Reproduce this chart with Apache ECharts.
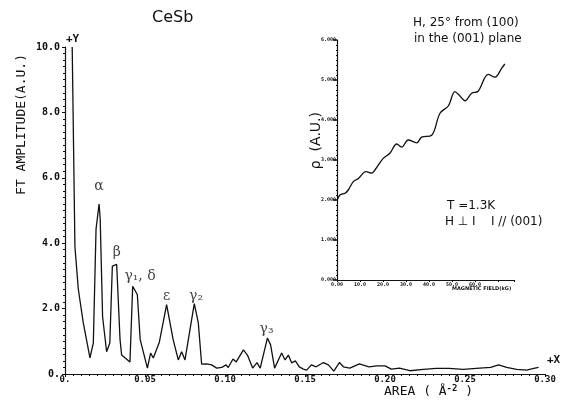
<!DOCTYPE html>
<html><head><meta charset="utf-8">
<script src="https://cdn.jsdelivr.net/npm/echarts@6/dist/echarts.min.js"></script>
<style>html,body{margin:0;padding:0;background:#fff}#c{width:577px;height:402px}</style>
</head><body><div id="c"></div>
<script>
// Main FT spectrum
const areaValues = [0.0045,0.0062,0.0083,0.0114,0.0156,0.0177,0.0194,0.0213,0.022,0.0235,0.026,0.028,0.0296,0.0323,0.0344,0.0354,0.0406,0.0423,0.0452,0.047,0.0515,0.0535,0.0552,0.059,0.0635,0.0676,0.0708,0.0729,0.075,0.0808,0.0833,0.0854,0.0885,0.0917,0.0948,0.098,0.1006,0.102,0.105,0.107,0.1115,0.114,0.1173,0.12,0.122,0.1265,0.1285,0.131,0.1354,0.1375,0.1396,0.1417,0.144,0.1464,0.149,0.151,0.154,0.157,0.1615,0.1646,0.168,0.1715,0.174,0.178,0.184,0.19,0.195,0.2,0.204,0.209,0.2156,0.224,0.232,0.24,0.249,0.257,0.266,0.271,0.276,0.2823,0.2885,0.293,0.296];
const ftAmplitude = [10.0,3.9,2.6,1.57,0.49,0.95,4.43,5.2,4.74,1.75,0.68,0.95,3.3,3.35,1.05,0.58,0.37,2.68,2.43,1.05,0.18,0.64,0.49,0.98,2.12,1.05,0.43,0.68,0.43,2.15,1.57,0.3,0.31,0.28,0.18,0.2,0.28,0.2,0.46,0.37,0.74,0.58,0.18,0.35,0.18,1.1,0.89,0.18,0.64,0.43,0.58,0.34,0.4,0.22,0.15,0.12,0.28,0.22,0.35,0.28,0.09,0.35,0.22,0.18,0.31,0.22,0.25,0.25,0.15,0.18,0.1,0.14,0.17,0.17,0.14,0.17,0.2,0.28,0.2,0.14,0.12,0.17,0.2];
const xTickLabels = ['0.','0.05','0.10','0.15','0.20','0.25','0.30'];
const yTickLabels = ['0.','2.0','4.0','6.0','8.0','10.0'];
// Peak annotations
const peakNames = ['α','β','γ₁, δ','ε','γ₂','γ₃'];
const peakX = [0.0213,0.0323,0.0469,0.0635,0.0819,0.126];
const peakY = [5.73,3.72,2.98,2.37,2.37,1.38];
// Inset: resistivity vs field
const insetField = [0.1,1.3,3.5,4.9,7.1,9.3,12.6,15.1,16.5,20.1,23.0,26.0,28.1,31.0,34.7,36.8,41.2,44.8,48.4,51.3,53.2,55.7,58.6,61.4,65.8,68.7,71.6,73.0];
const insetRho = [2.0,2.125,2.17,2.25,2.46,2.54,2.71,2.67,2.75,3.04,3.17,3.4,3.32,3.5,3.43,3.57,3.62,4.17,4.35,4.71,4.62,4.48,4.67,4.72,5.14,5.07,5.29,5.4];
const insetXLabels = ['0.00','10.0','20.0','30.0','40.0','50.0','60.0'];
const insetYLabels = ['0.000','1.000','2.000','3.000','4.000','5.000','6.000'];

const ink = '#111';
const mono = 'DejaVu Sans Mono';
const chart = echarts.init(document.getElementById('c'), null, {renderer:'canvas'});
const mainData = areaValues.map((x,i)=>[x, ftAmplitude[i]]);
const peakData = peakX.map((x,i)=>({value:[x, peakY[i]], name:peakNames[i]}));
const insetData = insetField.map((x,i)=>[x, insetRho[i]]);

chart.setOption({
  backgroundColor:'#fff',
  animation:false,
  grid:[
    {left:65, top:47, width:480, height:327},
    {left:337, top:40, width:177, height:240}
  ],
  xAxis:[
    {gridIndex:0, type:'value', min:0, max:0.30, interval:0.05,
     axisLine:{show:true, onZero:false, lineStyle:{color:ink, width:1.2}},
     axisTick:{show:true, inside:false, length:3, lineStyle:{color:ink}},
     minorTick:{show:true, splitNumber:10, length:2, lineStyle:{color:ink}},
     splitLine:{show:false},
     axisLabel:{color:ink, fontFamily:mono, fontWeight:'bold', fontSize:9, margin:1,
       formatter:(v)=>{const i=Math.round(v/0.05); return xTickLabels[i]||'';}}},
    {gridIndex:1, type:'value', min:0, max:77, interval:10,
     axisLine:{show:true, onZero:false, lineStyle:{color:ink, width:1.2}},
     axisTick:{show:true, inside:false, length:2, lineStyle:{color:ink}},
     minorTick:{show:true, splitNumber:5, length:1, lineStyle:{color:ink}},
     splitLine:{show:false},
     axisLabel:{color:ink, fontFamily:mono, fontWeight:'bold', fontSize:5, margin:2,
       formatter:(v)=>{const i=Math.round(v/10); return insetXLabels[i]||'';}}}
  ],
  yAxis:[
    {gridIndex:0, type:'value', min:0, max:10, interval:2,
     axisLine:{show:true, onZero:false, lineStyle:{color:ink, width:1.2}},
     axisTick:{show:true, inside:false, length:3, lineStyle:{color:ink}},
     minorTick:{show:true, splitNumber:10, length:2, lineStyle:{color:ink}},
     splitLine:{show:false},
     axisLabel:{color:ink, fontFamily:mono, fontWeight:'bold', fontSize:10, margin:5,
       formatter:(v)=>{const i=Math.round(v/2); return yTickLabels[i]||'';}}},
    {gridIndex:1, type:'value', min:0, max:6, interval:1,
     axisLine:{show:true, onZero:false, lineStyle:{color:ink, width:1.2}},
     axisTick:{show:true, inside:false, length:4, lineStyle:{color:ink, width:1.5}},
     minorTick:{show:true, splitNumber:8, length:1, lineStyle:{color:ink}},
     splitLine:{show:false},
     axisLabel:{color:ink, fontFamily:mono, fontWeight:'bold', fontSize:5, margin:1,
       formatter:(v)=>insetYLabels[Math.round(v)]||''}}
  ],
  series:[
    {type:'line', xAxisIndex:0, yAxisIndex:0, data:mainData, showSymbol:false, symbol:'none',
     lineStyle:{color:ink, width:1.3}, clip:true},
    {type:'scatter', xAxisIndex:0, yAxisIndex:0, data:peakData, symbolSize:0, silent:true,
     label:{show:true, position:'inside', formatter:'{b}', color:ink,
       fontFamily:'DejaVu Serif', fontSize:14}},
    {type:'line', xAxisIndex:1, yAxisIndex:1, data:insetData, smooth:0.35, showSymbol:false, symbol:'none',
     lineStyle:{color:ink, width:1.3}}
  ],
  graphic:[
    {type:'text', left:152, top:10, style:{text:'CeSb', fill:ink, font:'16px "DejaVu Sans"'}},
    {type:'text', left:66, top:34, style:{text:'+Y', fill:ink, font:'bold 11px "DejaVu Sans Mono"'}},
    {type:'text', left:547, top:355, style:{text:'+X', fill:ink, font:'bold 11px "DejaVu Sans Mono"'}},
    {type:'text', left:15, top:54, rotation:Math.PI/2, originX:0, originY:0,
     style:{text:'FT AMPLITUDE(A.U.)', fill:ink, font:'13px "DejaVu Sans Mono"'}},
    {type:'text', left:384, top:384, style:{
      text:'AREA ( Å{s|-2} )', fill:ink, font:'13px "DejaVu Sans Mono"',
      rich:{s:{fontSize:9, fontFamily:'DejaVu Sans Mono', fontWeight:'bold', verticalAlign:'top', padding:[0,0,6,0], fill:ink}}}},
    {type:'text', left:413, top:17, style:{text:'H, 25° from (100)', fill:ink, font:'12px "DejaVu Sans"'}},
    {type:'text', left:414, top:33, style:{text:'in the (001) plane', fill:ink, font:'12px "DejaVu Sans"'}},
    {type:'text', left:309, top:112, rotation:Math.PI/2, originX:0, originY:0,
     style:{text:'ρ  (A.U.)', fill:ink, font:'14px "DejaVu Sans"'}},
    {type:'text', left:447, top:200, style:{text:'T =1.3K', fill:ink, font:'12px "DejaVu Sans"'}},
    {type:'text', left:445, top:216, style:{text:'H \u22A5 I    I // (001)', fill:ink, font:'12px "DejaVu Sans"'}},
    {type:'text', left:452, top:286, style:{text:'MAGNETIC FIELD(kG)', fill:ink, font:'bold 5px "DejaVu Sans"'}}
  ]
});
</script></body></html>
